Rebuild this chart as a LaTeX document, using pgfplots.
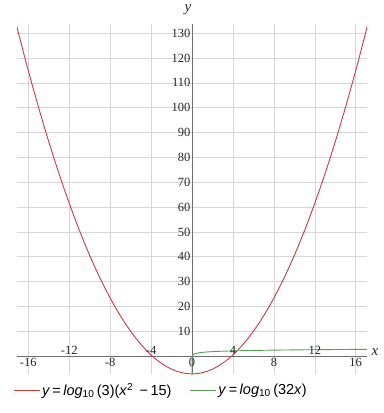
\documentclass[border=0pt]{standalone}
\usepackage{pgfplots}
\pgfplotsset{compat=1.18}
\usepackage{fontspec}
\setmainfont{Liberation Serif}
\setsansfont{Liberation Sans}
\definecolor{cred}{RGB}{204,58,58}
\definecolor{cgreen}{RGB}{88,160,88}
\definecolor{cgrid}{RGB}{214,214,214}
\definecolor{caxis}{RGB}{110,110,110}
\begin{document}
\begin{tikzpicture}
\path[use as bounding box] (-17bp,-39bp) rectangle (367bp,374bp);
\begin{axis}[
  at={(0,0)}, anchor=south west,
  scale only axis, width=350bp, height=350bp,
  xmin=-17.1, xmax=17.1, ymin=-7.2, ymax=133.7,
  axis lines=middle,
  axis line style={-, caxis, line width=0.8pt},
  xtick={-16,-12,...,16}, ytick={10,20,...,130},
  xticklabels={},
  grid=major, major grid style={cgrid, line width=0.6pt},
  major tick length=0pt,
  /pgf/number format/assume math mode=true,
  tick label style={font=\fontsize{12.5bp}{14bp}\selectfont, text=black!85},
  yticklabel style={anchor=east, xshift=2pt},
  legend style={draw=none, fill=none, font=\sffamily\fontsize{14.5bp}{17bp}\selectfont,
    at={(-0.02,-0.014)}, anchor=north west, legend columns=2,
    /tikz/every even column/.append style={column sep=16bp}},
  legend image code/.code={\draw[#1] (0bp,0bp)--(26bp,0bp);},
  clip=true,
]
\addplot[cred, line width=0.9pt] coordinates {
(-17.5,138.961)(-17,130.731)(-16.5,122.739)(-16,114.986)(-15.5,107.471)(-15,100.195)
(-14.5,93.158)(-14,86.359)(-13.5,79.798)(-13,73.476)(-12.5,67.393)(-12,61.548)
(-11.5,55.942)(-11,50.575)(-10.5,45.446)(-10,40.555)(-9.5,35.903)(-9,31.490)
(-8.5,27.315)(-8,23.379)(-7.5,19.681)(-7,16.222)(-6.5,13.002)(-6,10.020)
(-5.5,7.276)(-5,4.771)(-4.5,2.505)(-4,0.477)(-3.5,-1.312)(-3,-2.863)
(-2.5,-4.175)(-2,-5.248)(-1.5,-6.083)(-1,-6.680)(-0.5,-7.037)(0,-7.157)
(0.5,-7.037)(1,-6.680)(1.5,-6.083)(2,-5.248)(2.5,-4.175)(3,-2.863)
(3.5,-1.312)(4,0.477)(4.5,2.505)(5,4.771)(5.5,7.276)(6,10.020)
(6.5,13.002)(7,16.222)(7.5,19.681)(8,23.379)(8.5,27.315)(9,31.490)
(9.5,35.903)(10,40.555)(10.5,45.446)(11,50.575)(11.5,55.942)(12,61.548)
(12.5,67.393)(13,73.476)(13.5,79.798)(14,86.359)(14.5,93.158)(15,100.195)
(15.5,107.471)(16,114.986)(16.5,122.739)(17,130.731)(17.5,138.961)
};
\addlegendentry{\textit{y}\,=\,\textit{log}\textsubscript{10}\,(3)(\textit{x}\textsuperscript{2} \,−\,15)}
\addplot[cgreen, line width=0.9pt] coordinates {
(0.000000001,-7.495)(0.001,-1.495)(0.003,-1.018)(0.01,-0.495)(0.02,-0.194)
(0.05,0.204)(0.1,0.505)(0.2,0.806)(0.3,0.982)(0.5,1.204)(0.75,1.380)
(1,1.505)(1.5,1.681)(2,1.806)(3,1.982)(4,2.107)(5,2.204)(6,2.283)
(8,2.408)(10,2.505)(12,2.584)(14,2.651)(16,2.709)(17.1,2.738)
};
\addlegendentry{\textit{y}\,=\,\textit{log}\textsubscript{10}\,(32\textit{x})}
\begin{scope}[font=\fontsize{12.5bp}{14bp}\selectfont, text=black!85]
\node[below, yshift=1pt] at (axis cs:-16,0) {-16};
\node[below, yshift=1pt] at (axis cs:-8,0) {-8};
\node[below, yshift=1pt] at (axis cs:0,0) {0};
\node[below, yshift=1pt] at (axis cs:8,0) {8};
\node[below, yshift=1pt] at (axis cs:16,0) {16};
\node[above, yshift=-2pt] at (axis cs:-12,0) {-12};
\node[above, yshift=-2pt] at (axis cs:-4,0) {-4};
\node[above, yshift=-2pt] at (axis cs:4,0) {4};
\node[above, yshift=-2pt] at (axis cs:12,0) {12};
\end{scope}
\end{axis}
\node[font=\itshape\fontsize{15bp}{17bp}\selectfont, text=black!85] at (358bp,22bp) {x};
\node[font=\itshape\fontsize{15bp}{17bp}\selectfont, text=black!85] at (171bp,364bp) {y};
\end{tikzpicture}
\end{document}
